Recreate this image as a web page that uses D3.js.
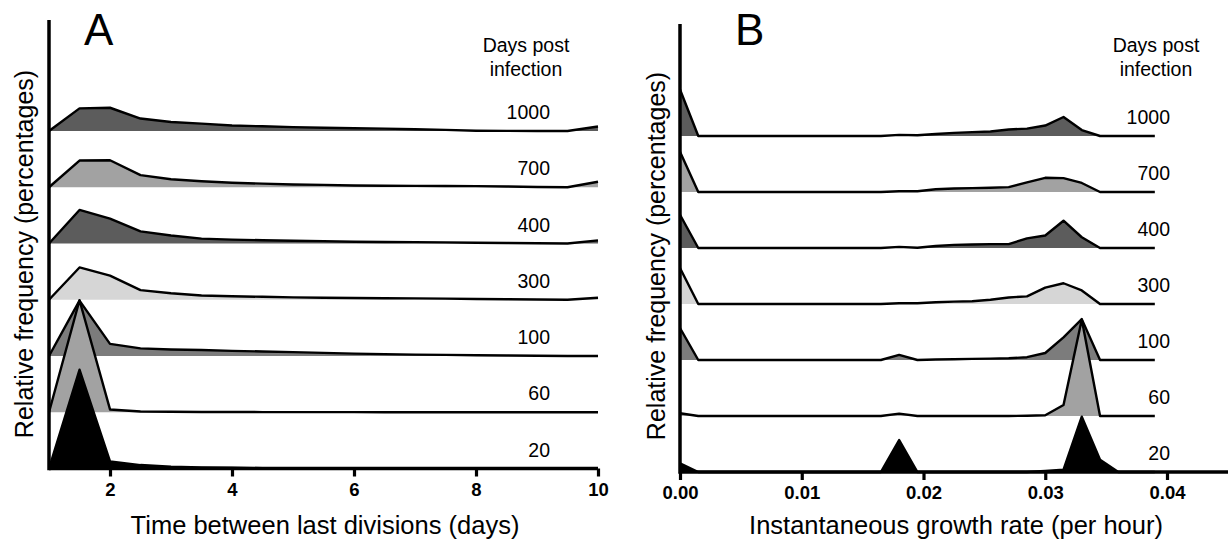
<!DOCTYPE html>
<html lang="en">
<head>
<meta charset="UTF-8">
<title>Ridge plots</title>
<script src="https://d3js.org/d3.v7.min.js"></script>
<style>
  body { margin: 0; background: #fff; }
  text { font-family: "Liberation Sans", Arial, sans-serif; }
</style>
</head>
<body>
<svg></svg>
<script>
var width = 1228, height = 545;
var svg = d3.select("svg").attr("width", width).attr("height", height);

// days post infection, top ridge first
var daysPost = [1000, 700, 400, 300, 100, 60, 20];
var ridgeFill = ["#5c5c5c", "#a2a2a2", "#5c5c5c", "#d6d6d6", "#7c7c7c", "#a2a2a2", "#000000"];

// panel A: time between last divisions (days)
var divBins = [1, 1.5, 2, 2.5, 3, 3.5, 4, 4.5, 5, 5.5, 6, 6.5, 7, 7.5, 8, 8.5, 9, 9.5, 10];
var div1000 = [0, 14.5, 14.9, 8.0, 5.8, 4.7, 3.5, 3.0, 2.5, 2.1, 1.8, 1.5, 1.1, 0.7, 0.2, 0.1, 0, 0, 2.9];
var div700  = [0, 17.1, 17.3, 7.8, 5.1, 3.8, 2.9, 2.3, 1.8, 1.5, 1.1, 1.0, 0.9, 0.8, 0.7, 0.5, 0.2, 0, 3.5];
var div400  = [0, 21.5, 16.0, 7.8, 5.1, 3.1, 2.5, 2.1, 1.8, 1.5, 1.1, 1.0, 0.9, 0.7, 0.5, 0.3, 0.2, 0, 2.0];
var div300  = [0, 20.7, 15.5, 6.2, 4.2, 2.7, 2.2, 1.9, 1.5, 1.3, 1.1, 1.0, 0.9, 0.7, 0.5, 0.3, 0.2, 0, 1.3];
var div100  = [0, 35.5, 7.8, 4.9, 4.2, 3.8, 3.3, 2.9, 2.5, 2.0, 1.5, 1.2, 0.9, 0.7, 0.5, 0.3, 0.2, 0, 0];
var div60   = [0, 71.8, 1.8, 0.5, 0.3, 0.2, 0.2, 0.1, 0.1, 0.1, 0.1, 0, 0, 0, 0, 0, 0, 0, 0];
var div20   = [0, 63.3, 4.5, 2.2, 1.1, 0.7, 0.5, 0.2, 0.1, 0, 0, 0, 0, 0, 0, 0, 0, 0, 0];
var divTicks = [2, 4, 6, 8, 10];

// panel B: instantaneous growth rate (per hour)
var growthBins = [0, 0.0015, 0.003, 0.0045, 0.006, 0.0075, 0.009, 0.0105, 0.012, 0.0135, 0.015,
                  0.0165, 0.018, 0.0195, 0.021, 0.0225, 0.024, 0.0255, 0.027, 0.0285, 0.03,
                  0.0315, 0.033, 0.0345, 0.036, 0.0375, 0.039];
var gr1000 = [29.8, 0, 0, 0, 0, 0, 0, 0, 0, 0, 0, 0, 0.7, 0.5, 1.3, 2.0, 2.5, 2.9, 4.2, 4.7, 6.7, 12.2, 3.8, 0, 0, 0, 0];
var gr700  = [25.8, 0, 0, 0, 0, 0, 0, 0, 0, 0, 0, 0, 0.5, 0.5, 1.8, 2.2, 2.5, 2.7, 3.1, 6.2, 9.1, 8.9, 5.8, 0, 0, 0, 0];
var gr400  = [21.3, 0, 0, 0, 0, 0, 0, 0, 0, 0, 0, 0, 0.7, 0.2, 1.3, 2.0, 2.2, 2.5, 2.5, 6.2, 8.0, 17.5, 6.9, 0, 0, 0, 0];
var gr300  = [23.1, 0, 0, 0, 0, 0, 0, 0, 0, 0, 0, 0, 0.5, 0.5, 1.1, 1.5, 1.8, 2.7, 4.2, 4.9, 10.5, 13.3, 8.7, 0, 0, 0, 0];
var gr100  = [20.5, 0, 0, 0, 0, 0, 0, 0, 0, 0, 0, 0, 3.3, 0, 0.3, 0.5, 0.7, 0.9, 1.1, 1.8, 4.5, 14.5, 26.2, 0, 0, 0, 0];
var gr60   = [1.8, 0, 0, 0, 0, 0, 0, 0, 0, 0, 0, 0, 1.5, 0, 0, 0, 0, 0, 0, 0.2, 0.5, 7.1, 61.8, 0, 0, 0, 0];
var gr20   = [5.5, 0, 0, 0, 0, 0, 0, 0, 0, 0, 0, 0, 20.5, 0, 0, 0, 0, 0, 0, 0, 0.7, 1.5, 35.5, 7.8, 0, 0, 0];
var growthTicks = [0, 0.01, 0.02, 0.03, 0.04];

// one ridge panel
function drawPanel(cfg) {
    var g = svg.append("g");
    var x = d3.scaleLinear().domain(cfg.xDomain).range(cfg.xRange);
    var ridgeY = d3.scalePoint().domain(daysPost).range(cfg.baseRange);
    var h = d3.scaleLinear().domain([0, 100]).range([0, 156]);

    cfg.series.forEach(function (vals, i) {
        var base = ridgeY(daysPost[i]);
        var pts = cfg.bins.map(function (b, j) { return [b, vals[j]]; });
        var area = d3.area()
                .x(function (d) { return x(d[0]); })
                .y0(base)
                .y1(function (d) { return base - h(d[1]); });
        var line = d3.line()
                .x(function (d) { return x(d[0]); })
                .y(function (d) { return base - h(d[1]); });
        g.append("path").attr("d", area(pts)).attr("fill", ridgeFill[i]);
        g.append("path").attr("d", line(pts))
                .attr("fill", "none").attr("stroke", "#000").attr("stroke-width", 2.4)
                .attr("stroke-linejoin", "round");
        g.append("text")
                .attr("x", cfg.labelX).attr("y", base - 12)
                .attr("text-anchor", "end").attr("font-size", 19.5)
                .text(daysPost[i]);
    });

    // axes
    var axisY = cfg.axisY;
    var xAxis = d3.axisBottom(x).tickValues(cfg.ticks).tickSize(8).tickSizeOuter(0)
            .tickFormat(cfg.tickFormat);
    var ax = g.append("g").attr("transform", "translate(0," + axisY + ")").call(xAxis);
    ax.select(".domain").attr("stroke-width", 3.5).attr("d", "M" + cfg.xRange[0] + ",0H" + cfg.axisEnd);
    ax.selectAll(".tick line").attr("stroke-width", 3.2);
    ax.selectAll(".tick text").attr("font-size", 18.5).attr("font-weight", "bold")
            .attr("font-family", "Liberation Sans, Arial, sans-serif").attr("fill", "#000")
            .attr("y", 14).attr("dy", "0.71em");

    g.append("line")
            .attr("x1", cfg.xRange[0]).attr("x2", cfg.xRange[0])
            .attr("y1", cfg.axisTop).attr("y2", axisY + 1.75)
            .attr("stroke", "#000").attr("stroke-width", 3.5);

    g.append("text").attr("x", cfg.titleX).attr("y", 534)
            .attr("text-anchor", "middle").attr("font-size", 25.5).text(cfg.xTitle);
    g.append("text")
            .attr("transform", "translate(" + cfg.yTitleX + "," + cfg.yTitleY + ") rotate(-90)")
            .attr("text-anchor", "middle").attr("font-size", 25)
            .text("Relative frequency (percentages)");
    g.append("text").attr("x", cfg.letterX).attr("y", 45).attr("font-size", 44).text(cfg.letter);
    g.append("text").attr("x", cfg.legendX).attr("y", 52)
            .attr("text-anchor", "middle").attr("font-size", 19.5).text("Days post");
    g.append("text").attr("x", cfg.legendX).attr("y", 76)
            .attr("text-anchor", "middle").attr("font-size", 19.5).text("infection");
}

drawPanel({
    letter: "A", letterX: 84,
    bins: divBins,
    series: [div1000, div700, div400, div300, div100, div60, div20],
    xDomain: [1, 10], xRange: [49, 598], axisEnd: 598,
    baseRange: [131, 468.5], axisY: 468.5, axisTop: 20,
    ticks: divTicks, tickFormat: d3.format("d"),
    labelX: 550, legendX: 526,
    xTitle: "Time between last divisions (days)", titleX: 325,
    yTitleX: 33, yTitleY: 254
});

drawPanel({
    letter: "B", letterX: 735,
    bins: growthBins,
    series: [gr1000, gr700, gr400, gr300, gr100, gr60, gr20],
    xDomain: [0, 0.04], xRange: [680, 1167], axisEnd: 1228,
    baseRange: [136, 472], axisY: 472, axisTop: 24,
    ticks: growthTicks, tickFormat: d3.format(".2f"),
    labelX: 1170, legendX: 1156,
    xTitle: "Instantaneous growth rate (per hour)", titleX: 956,
    yTitleX: 665, yTitleY: 256
});
</script>
</body>
</html>
